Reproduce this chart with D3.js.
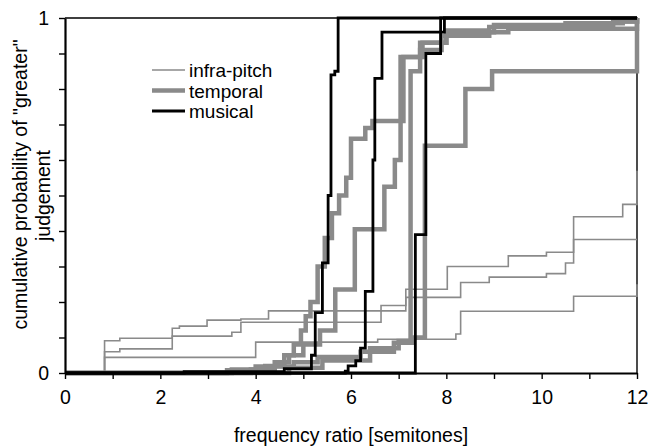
<!DOCTYPE html>
<html>
<head>
<meta charset="utf-8">
<script src="https://cdn.jsdelivr.net/npm/d3@7"></script>
<style>
  body { margin: 0; background: #fff; }
  svg text { font-family: "Liberation Sans", Arial, sans-serif; fill: #000; }
</style>
</head>
<body>
<svg></svg>
<script>
// step curves: [semitones, cumulative probability]
const infra1 = [[0,0],[0.83,0.091],[1.15,0.098],[2.25,0.126],[2.4,0.132],[2.98,0.149],[3.69,0.152],[4.27,0.175],[6.63,0.19],[7.15,0.236],[8.02,0.3],[9.3,0.33],[10.1,0.34],[10.67,0.44],[11.7,0.475],[12,0.57]];
const infra2 = [[0,0],[0.83,0.06],[1.15,0.068],[2.25,0.104],[3.5,0.115],[3.69,0.143],[6.63,0.175],[7.15,0.213],[8.3,0.255],[8.9,0.27],[10.1,0.28],[10.5,0.31],[10.67,0.376],[12,0.376]];
const infra3 = [[0,0],[0.83,0.044],[4.0,0.087],[6.56,0.095],[8.2,0.11],[8.3,0.174],[10.67,0.216],[12,0.25]];

const temporal1 = [[0,0],[3.5,0.01],[4.2,0.02],[4.6,0.05],[4.8,0.08],[4.95,0.12],[5.05,0.16],[5.15,0.2],[5.3,0.3],[5.45,0.38],[5.6,0.45],[5.75,0.5],[5.9,0.55],[6.0,0.66],[6.3,0.69],[6.45,0.71],[7.1,0.89],[7.5,0.93],[8.0,0.96],[9.0,0.98],[11.5,0.99],[12,1]];
const temporal2 = [[0,0],[3.9,0.01],[4.4,0.03],[4.7,0.05],[5.0,0.08],[5.35,0.12],[5.67,0.235],[6.08,0.405],[6.7,0.525],[6.92,0.6],[7.04,0.89],[7.45,0.93],[8.0,0.965],[8.9,0.975],[10.5,0.985],[11.7,0.99],[12,1]];
const temporal3 = [[0,0],[3.4,0.008],[4.0,0.018],[4.8,0.03],[5.3,0.045],[6.2,0.06],[6.9,0.085],[7.3,0.1],[7.55,0.64],[8.4,0.8],[8.96,0.85],[12,1]];
const temporal4 = [[0,0],[4.7,0.015],[5.4,0.035],[6.4,0.07],[7.0,0.09],[7.25,0.85],[7.45,0.91],[7.9,0.95],[8.9,0.96],[9.3,0.97],[12,1]];

const musical1 = [[0,0],[2.5,0.004],[4.6,0.012],[5.17,0.05],[5.25,0.17],[5.4,0.31],[5.52,0.5],[5.58,0.84],[5.66,0.85],[5.73,1],[12,1]];
const musical2 = [[0,0],[5.88,0.005],[5.94,0.02],[6.1,0.035],[6.2,0.07],[6.3,0.23],[6.46,0.6],[6.5,0.83],[6.65,0.96],[7.88,1],[12,1]];
const musical3 = [[0,0],[7.35,0.39],[7.57,0.9],[7.88,0.96],[7.96,1],[12,1]];

const groups = ["infra-pitch", "temporal", "musical"];
const xTickLabels = [0, 2, 4, 6, 8, 10, 12];
const yTickLabels = [0, 1];

const style = {
  "infra-pitch": {color: "#8a8a8a", width: 1.6},
  "temporal": {color: "#8a8a8a", width: 4.5},
  "musical": {color: "#000", width: 2.8}
};

const series = [
  {group: "infra-pitch", values: infra1},
  {group: "infra-pitch", values: infra2},
  {group: "infra-pitch", values: infra3},
  {group: "temporal", values: temporal1},
  {group: "temporal", values: temporal2},
  {group: "temporal", values: temporal3},
  {group: "temporal", values: temporal4},
  {group: "musical", values: musical1},
  {group: "musical", values: musical2},
  {group: "musical", values: musical3}
];

const margin = {top: 18, right: 13, bottom: 74, left: 65},
    width = 650 - margin.left - margin.right,
    height = 447 - margin.top - margin.bottom;

const svg = d3.select("svg")
    .attr("width", 650)
    .attr("height", 447)
  .append("g")
    .attr("transform", `translate(${margin.left},${margin.top})`);

const x = d3.scaleLinear().domain([0, 12]).range([0, width]);
const y = d3.scaleLinear().domain([0, 1]).range([height, 0]);

// frame (top + right)
svg.append("path")
    .attr("d", `M0,0H${width}V${height}`)
    .attr("fill", "none")
    .attr("stroke", "#000")
    .attr("stroke-width", 1.4);

const line = d3.line()
    .x(d => x(d[0]))
    .y(d => y(d[1]))
    .curve(d3.curveStepAfter);

svg.append("g")
  .selectAll("path")
  .data(series)
  .join("path")
    .attr("d", d => line(d.values))
    .attr("fill", "none")
    .attr("stroke", d => style[d.group].color)
    .attr("stroke-width", d => style[d.group].width)
    .attr("stroke-linejoin", "miter");

// axes
const xAxis = svg.append("g")
    .attr("transform", `translate(0,${height})`)
    .call(d3.axisBottom(x)
      .tickValues(d3.range(0, 13, 1))
      .tickSize(6)
      .tickSizeOuter(0)
      .tickPadding(11)
      .tickFormat(d => xTickLabels.includes(d) ? d : ""));

const yAxis = svg.append("g")
    .call(d3.axisLeft(y)
      .tickValues(d3.range(0, 11).map(i => i / 10))
      .tickSize(6)
      .tickSizeOuter(0)
      .tickPadding(10)
      .tickFormat(d => yTickLabels.includes(d) ? d : ""));

[xAxis, yAxis].forEach(a => {
  a.select(".domain").attr("stroke-width", 2.2);
  a.selectAll(".tick line").attr("stroke-width", 1.4);
  a.selectAll("text").style("font-size", "19.5px");
});

svg.append("text")
    .attr("x", width / 2)
    .attr("y", height + 69)
    .attr("text-anchor", "middle")
    .style("font-size", "19.5px")
    .text("frequency ratio [semitones]");

svg.append("text")
    .attr("transform", `translate(${-38},${height / 2 - 11}) rotate(-90)`)
    .attr("text-anchor", "middle")
    .style("font-size", "19.5px")
    .text("cumulative probability of \"greater\"");

svg.append("text")
    .attr("transform", `translate(${-15},${height / 2}) rotate(-90)`)
    .attr("text-anchor", "middle")
    .style("font-size", "19.5px")
    .text("judgement");

// legend
const legend = svg.append("g")
    .attr("transform", `translate(${152 - margin.left},${70 - margin.top})`);

legend.selectAll("line")
  .data(groups)
  .join("line")
    .attr("x1", 0)
    .attr("x2", 33)
    .attr("y1", (d, i) => i * 20.5)
    .attr("y2", (d, i) => i * 20.5)
    .attr("stroke", d => style[d].color)
    .attr("stroke-width", d => style[d].width);

legend.selectAll("text")
  .data(groups)
  .join("text")
    .attr("x", 37)
    .attr("y", (d, i) => i * 20.5 + 7)
    .style("font-size", "19px")
    .text(d => d);
</script>
</body>
</html>
